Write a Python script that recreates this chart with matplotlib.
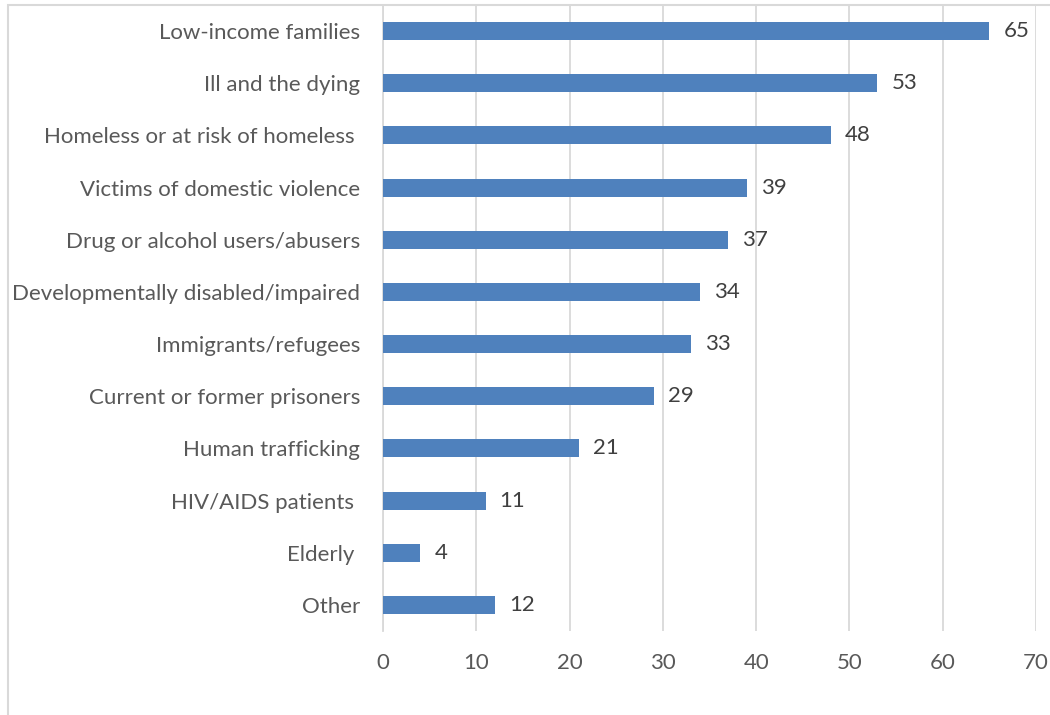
import matplotlib.pyplot as plt
from matplotlib.patches import Rectangle

# --- Data ---
categories = ["Low-income families", "Ill and the dying", "Homeless or at risk of homeless ",
              "Victims of domestic violence", "Drug or alcohol users/abusers",
              "Developmentally disabled/impaired", "Immigrants/refugees",
              "Current or former prisoners", "Human trafficking", "HIV/AIDS patients ",
              "Elderly ", "Other"]
values = [65, 53, 48, 39, 37, 34, 33, 29, 21, 11, 4, 12]
x_ticks = [0, 10, 20, 30, 40, 50, 60, 70]

# --- Style ---
plt.rcParams['font.family'] = ['Lato', 'DejaVu Sans']
TEXT = '#595959'
GRID = '#d9d9d9'
BAR = '#4f81bd'

fig = plt.figure(figsize=(10.5, 7.15), dpi=100)
ax = fig.add_axes([383 / 1050, 1 - 631 / 715, (1036 - 383) / 1050, 626 / 715])

pos = list(range(len(categories)))
ax.barh(pos, values, height=0.345, color=BAR, zorder=3)
for p, v in zip(pos, values):
    ax.text(v + 1.5, p, str(v), va='center', ha='left', fontsize=16, color='#404040')

ax.set_ylim(len(categories) - 0.5, -0.5)
ax.set_xlim(0, 70)
ax.set_xticks(x_ticks)
ax.set_yticks(pos)
ax.set_yticklabels(categories)
ax.tick_params(axis='both', length=0, colors=TEXT, labelsize=16)
ax.tick_params(axis='y', pad=16.5)
ax.tick_params(axis='x', pad=16)

ax.grid(axis='x', color=GRID, linewidth=1.3, zorder=0)
for s in ['top', 'right', 'bottom']:
    ax.spines[s].set_visible(False)
ax.spines['left'].set_color(GRID)
ax.spines['left'].set_linewidth(1.3)

# chart area border (cropped at right and bottom)
fig.patches.append(Rectangle((8 / 1050, -0.1), 1.2, 1 - 5 / 715 + 0.1,
                             transform=fig.transFigure, fill=False,
                             edgecolor=GRID, linewidth=1.5))

fig.savefig('out.png', dpi=100)
